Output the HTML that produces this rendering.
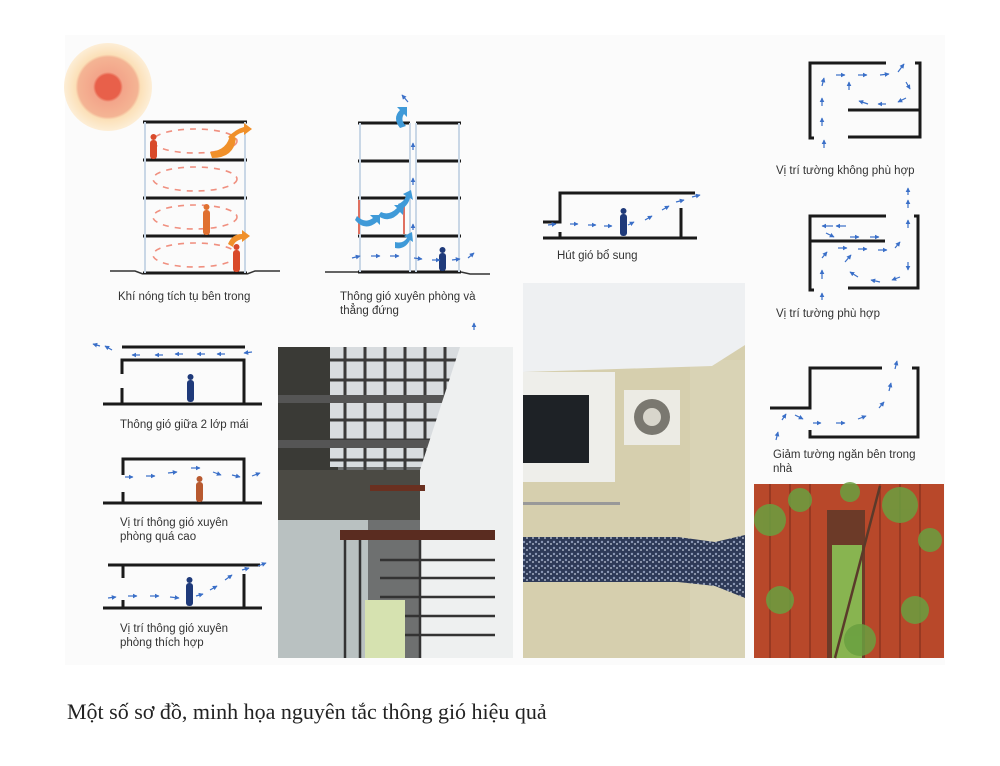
<!DOCTYPE html>
<html><head><meta charset="utf-8"><style>
html,body{margin:0;padding:0;background:#fff;}
svg{display:block;}
text{font-family:"Liberation Sans",sans-serif;}
</style></head><body>
<svg width="1000" height="766" viewBox="0 0 1000 766" xmlns="http://www.w3.org/2000/svg">
<defs>
<marker id="a" markerWidth="4" markerHeight="4" refX="3.5" refY="2" orient="auto"><path d="M0,0 L4,2 L0,4 z" fill="#3a6fc8"/></marker>
<radialGradient id="sun"><stop offset="0" stop-color="#e8604a"/><stop offset="0.28" stop-color="#e8604a"/><stop offset="0.34" stop-color="#f3a58a"/><stop offset="0.68" stop-color="#f4b494"/><stop offset="0.74" stop-color="#fbe0b8"/><stop offset="1" stop-color="#fdeed6"/></radialGradient>
<pattern id="mos" width="6" height="6" patternUnits="userSpaceOnUse"><rect width="6" height="6" fill="#2e3a58"/><circle cx="2" cy="2" r="1.2" fill="#8a97b5"/><circle cx="5" cy="4" r="0.9" fill="#c8d0e0"/></pattern>
</defs>
<rect x="65" y="35" width="880" height="630" fill="#fbfbfb"/>
<circle cx="108" cy="87" r="44" fill="url(#sun)"/>

<g stroke="#1a1a1a" stroke-width="3" fill="none">
<line x1="143" y1="122" x2="247" y2="122"/><line x1="143" y1="160" x2="247" y2="160"/><line x1="143" y1="198" x2="247" y2="198"/><line x1="143" y1="236" x2="247" y2="236"/><line x1="143" y1="273" x2="247" y2="273"/>
<line x1="358" y1="123" x2="410" y2="123"/><line x1="416" y1="123" x2="461" y2="123"/>
<line x1="358" y1="161" x2="410" y2="161"/><line x1="416" y1="161" x2="461" y2="161"/>
<line x1="358" y1="198" x2="410" y2="198"/><line x1="416" y1="198" x2="461" y2="198"/>
<line x1="358" y1="236" x2="410" y2="236"/><line x1="416" y1="236" x2="461" y2="236"/>
<line x1="358" y1="272" x2="461" y2="272"/>
<path d="M543,222 H560 V193 H695"/><line x1="543" y1="238" x2="697" y2="238"/><line x1="560" y1="232" x2="560" y2="238"/><line x1="681" y1="208" x2="681" y2="238"/>
<path d="M886,63 H810 V138 H814"/><path d="M915,63 H920 V137 H848"/><line x1="848" y1="110" x2="920" y2="110"/>
<path d="M886,216 H810 V290 H814"/><line x1="810" y1="241" x2="885" y2="241"/><path d="M914,216 H918 V288 H848"/>
<path d="M770,408 H810 V368 H882"/><path d="M912,368 H918 V437 H810 V430"/>
<line x1="122" y1="347" x2="245" y2="347"/><path d="M122,374 V360 H244 V403"/><line x1="122" y1="388" x2="122" y2="403"/><line x1="103" y1="404" x2="262" y2="404"/>
<path d="M123,475 V459 H244 V503"/><line x1="123" y1="492" x2="123" y2="503"/><line x1="103" y1="503" x2="262" y2="503"/>
<line x1="108" y1="565" x2="260" y2="565"/><line x1="123" y1="565" x2="123" y2="578"/><line x1="244" y1="574" x2="244" y2="607"/><line x1="123" y1="600" x2="123" y2="607"/><line x1="103" y1="608" x2="262" y2="608"/>
</g>
<g stroke="#333" stroke-width="1.5" fill="none">
<path d="M110,271 H135 L143,274"/><path d="M247,274 L255,271 H280"/>
<path d="M325,272 H358"/><path d="M461,272 L470,274 H490"/>
</g>
<g stroke="#c9d7e6" stroke-width="2">
<line x1="145" y1="122" x2="145" y2="273"/><line x1="245" y1="122" x2="245" y2="273"/>
<line x1="360" y1="123" x2="360" y2="272"/><line x1="410" y1="123" x2="410" y2="272"/><line x1="416" y1="123" x2="416" y2="272"/><line x1="459" y1="123" x2="459" y2="272"/>
</g>
<g stroke="#e07060" stroke-width="2"><line x1="359" y1="200" x2="359" y2="234"/><line x1="404" y1="205" x2="404" y2="234"/></g>
<g stroke="#f09080" stroke-width="1.6" fill="none" stroke-dasharray="6 6">
<ellipse cx="195" cy="141" rx="42" ry="12"/><ellipse cx="195" cy="179" rx="42" ry="12"/><ellipse cx="195" cy="217" rx="42" ry="12"/><ellipse cx="195" cy="255" rx="42" ry="12"/>
</g>
<g fill="#f0902a"><path d="M210,152 q18,-2 20,-18 l6,4 q-2,20 -24,20z"/><path d="M228,137 q8,-8 16,-10 l0,-4 8,6 -8,6 0,-3 q-8,2 -12,8z"/><path d="M228,244 q4,-10 14,-10 l0,-4 8,6 -8,6 0,-3 q-8,2 -9,8z"/></g>
<g fill="#d94a2a"><rect x="150" y="140" width="7" height="19" rx="3"/><circle cx="153.5" cy="137" r="3"/>
<rect x="203" y="210" width="7" height="25" rx="3" fill="#e07030"/><circle cx="206.5" cy="207" r="3" fill="#e07030"/>
<rect x="233" y="250" width="7" height="22" rx="3"/><circle cx="236.5" cy="247" r="3"/></g>
<g fill="#1f3a7a"><rect x="439" y="253" width="7" height="18" rx="3"/><circle cx="442.5" cy="250" r="3"/>
<rect x="620" y="214" width="7" height="22" rx="3"/><circle cx="623.5" cy="211" r="3"/>
<rect x="187" y="380" width="7" height="22" rx="3"/><circle cx="190.5" cy="377" r="3"/>
<rect x="186" y="583" width="7" height="23" rx="3"/><circle cx="189.5" cy="580" r="3"/></g>
<g fill="#b85a30"><rect x="196" y="482" width="7" height="20" rx="3"/><circle cx="199.5" cy="479" r="3"/></g>
<g fill="#3f9ad8"><path d="M400,128 q-8,-10 0,-18 l-3,-3 10,0 0,10 -3,-3 q-4,6 2,12z"/><path d="M355,220 q10,12 22,2 l3,3 0,-10 -10,0 3,3 q-8,6 -16,-2z"/><path d="M378,216 q12,8 22,-4 l3,3 1,-10 -10,0 3,3 q-8,8 -16,4z"/><path d="M400,210 q8,-4 10,-12 l3,2 -2,-10 -8,4 3,2 q-2,6 -8,8z"/><path d="M395,248 q10,2 15,-8 l3,2 -1,-10 -8,4 3,2 q-4,6 -12,4z"/></g>
<g stroke="#3a6fc8" stroke-width="1.2" marker-end="url(#a)">
<line x1="408" y1="102" x2="402" y2="95"/><line x1="413" y1="150" x2="413" y2="143"/><line x1="413" y1="185" x2="413" y2="178"/><line x1="413" y1="230" x2="413" y2="224"/>
<line x1="352" y1="258" x2="360" y2="256"/><line x1="371" y1="256" x2="380" y2="256"/><line x1="390" y1="256" x2="399" y2="256"/><line x1="414" y1="258" x2="422" y2="259"/><line x1="432" y1="260" x2="440" y2="260"/><line x1="452" y1="260" x2="460" y2="259"/><line x1="468" y1="258" x2="474" y2="253"/><line x1="474" y1="330" x2="474" y2="323"/>
<line x1="548" y1="225" x2="556" y2="224"/><line x1="570" y1="224" x2="578" y2="224"/><line x1="588" y1="225" x2="596" y2="225"/><line x1="604" y1="226" x2="612" y2="226"/><line x1="628" y1="225" x2="634" y2="222"/><line x1="645" y1="220" x2="652" y2="216"/><line x1="662" y1="210" x2="669" y2="206"/><line x1="676" y1="202" x2="684" y2="200"/><line x1="692" y1="197" x2="700" y2="195"/>
<line x1="824" y1="148" x2="824" y2="140"/><line x1="822" y1="126" x2="822" y2="118"/><line x1="822" y1="106" x2="822" y2="98"/><line x1="822" y1="86" x2="824" y2="78"/><line x1="836" y1="75" x2="845" y2="75"/><line x1="858" y1="75" x2="867" y2="75"/><line x1="880" y1="75" x2="889" y2="74"/><line x1="898" y1="72" x2="904" y2="64"/><line x1="906" y1="82" x2="910" y2="89"/><line x1="906" y1="98" x2="898" y2="102"/><line x1="886" y1="104" x2="878" y2="104"/><line x1="868" y1="104" x2="859" y2="101"/><line x1="849" y1="90" x2="849" y2="82"/>
<line x1="822" y1="300" x2="822" y2="293"/><line x1="822" y1="279" x2="822" y2="270"/><line x1="822" y1="258" x2="827" y2="252"/><line x1="838" y1="248" x2="847" y2="248"/><line x1="858" y1="249" x2="867" y2="249"/><line x1="878" y1="250" x2="887" y2="250"/><line x1="895" y1="248" x2="900" y2="242"/><line x1="908" y1="228" x2="908" y2="220"/><line x1="908" y1="208" x2="908" y2="200"/><line x1="908" y1="195" x2="908" y2="188"/><line x1="908" y1="262" x2="908" y2="270"/><line x1="900" y1="277" x2="892" y2="280"/><line x1="880" y1="282" x2="871" y2="280"/><line x1="858" y1="277" x2="850" y2="272"/><line x1="845" y1="262" x2="851" y2="255"/><line x1="833" y1="226" x2="822" y2="226"/><line x1="846" y1="226" x2="836" y2="226"/><line x1="826" y1="233" x2="834" y2="237"/><line x1="850" y1="237" x2="859" y2="237"/><line x1="870" y1="237" x2="879" y2="237"/>
<line x1="776" y1="440" x2="778" y2="432"/><line x1="782" y1="420" x2="786" y2="414"/><line x1="795" y1="415" x2="803" y2="419"/><line x1="813" y1="423" x2="821" y2="423"/><line x1="836" y1="423" x2="845" y2="423"/><line x1="858" y1="419" x2="866" y2="416"/><line x1="879" y1="408" x2="884" y2="402"/><line x1="889" y1="391" x2="891" y2="383"/><line x1="895" y1="369" x2="897" y2="361"/>
<line x1="112" y1="350" x2="105" y2="346"/><line x1="100" y1="346" x2="93" y2="344"/><line x1="140" y1="355" x2="132" y2="355"/><line x1="163" y1="355" x2="155" y2="355"/><line x1="183" y1="354" x2="175" y2="354"/><line x1="205" y1="354" x2="197" y2="354"/><line x1="225" y1="354" x2="217" y2="354"/><line x1="252" y1="352" x2="244" y2="353"/>
<line x1="125" y1="477" x2="133" y2="477"/><line x1="146" y1="476" x2="155" y2="476"/><line x1="168" y1="473" x2="177" y2="472"/><line x1="191" y1="468" x2="200" y2="468"/><line x1="213" y1="472" x2="221" y2="475"/><line x1="232" y1="475" x2="240" y2="477"/><line x1="252" y1="476" x2="260" y2="473"/>
<line x1="108" y1="598" x2="116" y2="597"/><line x1="128" y1="596" x2="137" y2="596"/><line x1="150" y1="596" x2="159" y2="596"/><line x1="170" y1="597" x2="179" y2="598"/><line x1="196" y1="596" x2="203" y2="594"/><line x1="210" y1="590" x2="217" y2="586"/><line x1="225" y1="580" x2="232" y2="575"/><line x1="242" y1="570" x2="249" y2="568"/><line x1="258" y1="566" x2="266" y2="563"/>
</g>
<g font-size="11.5" fill="#333">
<text x="118" y="300">Khí nóng tích tụ bên trong</text>
<text x="340" y="300">Thông gió xuyên phòng và</text><text x="340" y="314">thẳng đứng</text>
<text x="557" y="259">Hút gió bổ sung</text>
<text x="776" y="174">Vị trí tường không phù hợp</text>
<text x="776" y="317">Vị trí tường phù hợp</text>
<text x="773" y="458">Giảm tường ngăn bên trong</text><text x="773" y="472">nhà</text>
<text x="120" y="428">Thông gió giữa 2 lớp mái</text>
<text x="120" y="526">Vị trí thông gió xuyên</text><text x="120" y="540">phòng quá cao</text>
<text x="120" y="632">Vị trí thông gió xuyên</text><text x="120" y="646">phòng thích hợp</text>
</g>
<g>
<rect x="278" y="347" width="235" height="311" fill="#6e7070"/>
<rect x="278" y="347" width="60" height="150" fill="#3a3a36"/>
<rect x="330" y="347" width="130" height="120" fill="#d8dcdf"/>
<g stroke="#3a3a3a" stroke-width="3">
<line x1="345" y1="347" x2="345" y2="470"/><line x1="365" y1="347" x2="365" y2="470"/><line x1="385" y1="347" x2="385" y2="470"/><line x1="405" y1="347" x2="405" y2="470"/><line x1="425" y1="347" x2="425" y2="470"/><line x1="445" y1="347" x2="445" y2="470"/>
<line x1="330" y1="360" x2="460" y2="360"/><line x1="330" y1="380" x2="460" y2="380"/><line x1="330" y1="400" x2="460" y2="400"/><line x1="330" y1="420" x2="460" y2="420"/><line x1="330" y1="440" x2="460" y2="440"/><line x1="330" y1="460" x2="460" y2="460"/></g>
<rect x="278" y="395" width="185" height="8" fill="#555"/><rect x="278" y="440" width="185" height="8" fill="#555"/>
<rect x="278" y="470" width="180" height="50" fill="#4b4a44"/>
<polygon points="460,347 513,347 513,658 420,658 420,470" fill="#eef0f0"/>
<rect x="278" y="520" width="90" height="138" fill="#b9c1c1"/>
<rect x="340" y="530" width="155" height="10" fill="#5a2c20"/>
<rect x="370" y="485" width="55" height="6" fill="#6a3020"/>
<g stroke="#333" stroke-width="2.5"><line x1="345" y1="540" x2="345" y2="658"/><line x1="360" y1="540" x2="360" y2="658"/><line x1="380" y1="560" x2="495" y2="560"/><line x1="380" y1="578" x2="495" y2="578"/><line x1="380" y1="597" x2="495" y2="597"/><line x1="380" y1="616" x2="495" y2="616"/><line x1="380" y1="635" x2="495" y2="635"/><line x1="420" y1="540" x2="420" y2="658"/></g>
<rect x="365" y="600" width="40" height="58" fill="#d6e2b0"/>
</g>
<g>
<rect x="523" y="283" width="222" height="375" fill="#d6cfae"/>
<rect x="690" y="360" width="55" height="298" fill="#d9d3b5"/>
<polygon points="523,283 745,283 745,345 712,366 523,372" fill="#eef0f2"/>
<rect x="523" y="372" width="92" height="110" fill="#eeeeea"/>
<rect x="523" y="395" width="66" height="68" fill="#1e2226"/>
<rect x="624" y="390" width="56" height="55" fill="#ecebe4"/>
<circle cx="652" cy="417" r="18" fill="#7a7870"/><circle cx="652" cy="417" r="9" fill="#d8d6cc"/>
<rect x="523" y="502" width="97" height="3" fill="#999"/>
<rect x="523" y="537" width="155" height="45" fill="url(#mos)"/>
<polygon points="678,537 715,542 715,586 678,582" fill="url(#mos)"/>
<polygon points="715,542 745,535 745,598 715,586" fill="url(#mos)"/>
</g>
<g>
<rect x="754" y="484" width="190" height="174" fill="#b8482a"/>
<g stroke="#8e3420" stroke-width="1.5"><line x1="770" y1="484" x2="770" y2="658"/><line x1="790" y1="484" x2="790" y2="658"/><line x1="810" y1="484" x2="810" y2="658"/><line x1="880" y1="484" x2="880" y2="658"/><line x1="900" y1="484" x2="900" y2="658"/><line x1="920" y1="484" x2="920" y2="658"/></g>
<rect x="827" y="510" width="38" height="148" fill="#6c3a28"/>
<rect x="832" y="545" width="30" height="113" fill="#88b450"/>
<g fill="#6aa040" opacity="0.85"><circle cx="770" cy="520" r="16"/><circle cx="800" cy="500" r="12"/><circle cx="900" cy="505" r="18"/><circle cx="930" cy="540" r="12"/><circle cx="780" cy="600" r="14"/><circle cx="915" cy="610" r="14"/><circle cx="860" cy="640" r="16"/><circle cx="850" cy="492" r="10"/></g>
<line x1="835" y1="658" x2="880" y2="486" stroke="#5a3a2a" stroke-width="2.5"/>
</g>
<text x="67" y="719" font-size="22" fill="#222" style="font-family:'Liberation Serif',serif">Một số sơ đồ, minh họa nguyên tắc thông gió hiệu quả</text>
</svg>
</body></html>
